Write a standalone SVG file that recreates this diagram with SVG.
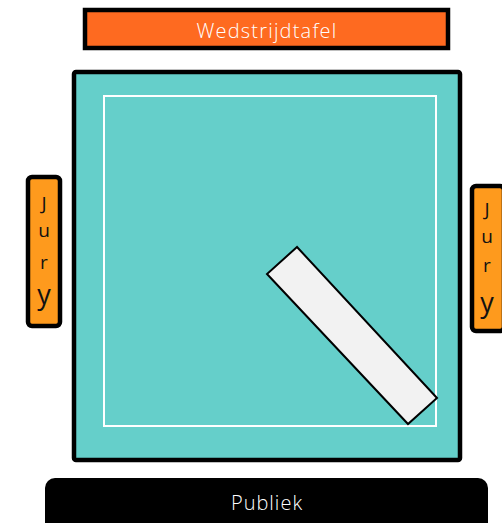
<svg xmlns="http://www.w3.org/2000/svg" width="502" height="523" viewBox="0 0 502 523">
<style>
.lbl{font-family:"Open Sans","Liberation Sans",sans-serif;font-weight:300;text-anchor:middle}
.jury{font-family:"Open Sans","Liberation Sans",sans-serif;font-size:19px;fill:#111;text-anchor:middle}
.juryb{font-size:27px}
.box{stroke:#000;stroke-width:4.5}
</style>
<rect width="502" height="523" fill="#fff"/>
<g id="wedstrijdtafel">
<rect class="box" x="85" y="10" width="363" height="38" fill="#fe6a20"/>
<text class="lbl" x="267" y="38" font-size="20" letter-spacing="1.2" fill="#fff">Wedstrijdtafel</text>
</g>
<g id="veld">
<rect class="box" x="74" y="72" width="386" height="388" rx="2" fill="#65cfca"/>
<rect x="104" y="96" width="332" height="330" fill="none" stroke="#fff" stroke-width="2"/>
</g>
<g id="mat">
<polygon points="297,247 267,274 408,424 437,398" fill="#f2f2f2" stroke="#000" stroke-width="2"/>
</g>
<g id="jury-links">
<rect class="box" x="28" y="177" width="32" height="149" rx="4" fill="#fe9a1d"/>
<text class="jury" x="44" y="210">J</text>
<text class="jury" x="44" y="237">u</text>
<text class="jury" x="44" y="269">r</text>
<text class="jury juryb" x="44" y="304">y</text>
</g>
<g id="jury-rechts">
<rect class="box" x="472" y="186" width="32" height="145" rx="4" fill="#fe9a1d"/>
<text class="jury" x="487" y="216">J</text>
<text class="jury" x="487" y="243">u</text>
<text class="jury" x="487" y="272">r</text>
<text class="jury juryb" x="487" y="312">y</text>
</g>
<g id="publiek">
<rect x="45" y="478" width="443" height="60" rx="10" fill="#000"/>
<text class="lbl" x="267" y="510" font-size="20" letter-spacing="1" fill="#fff">Publiek</text>
</g>
<g id="connectors"/>
</svg>
